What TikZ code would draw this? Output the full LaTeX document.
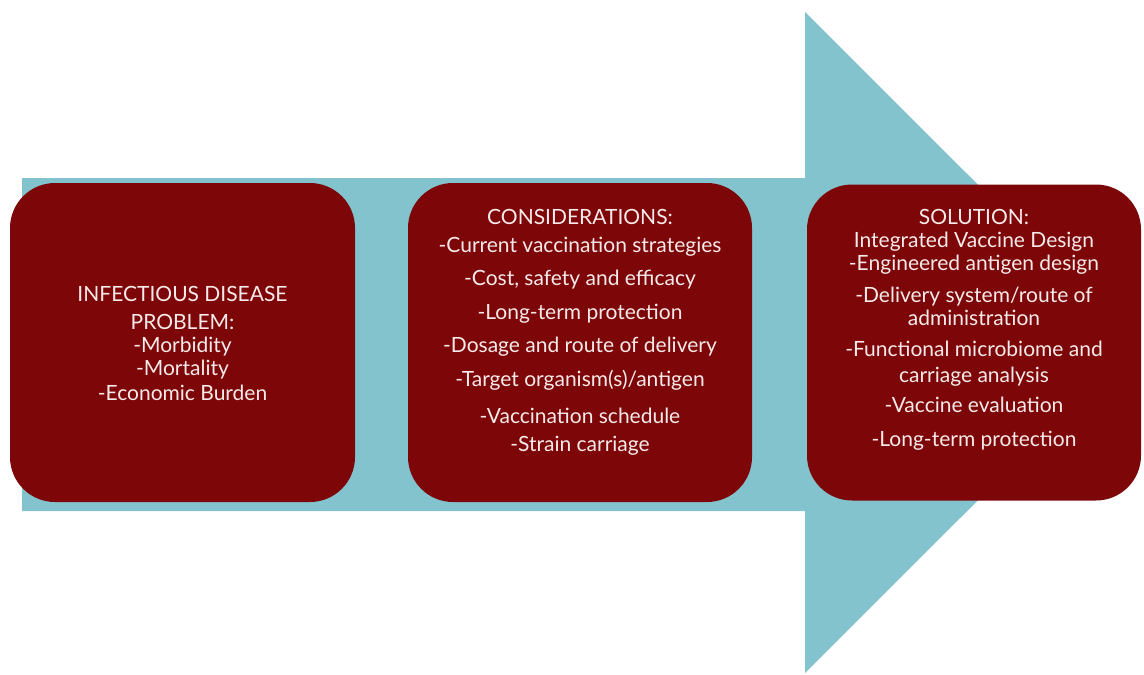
\documentclass[tikz,border=0pt]{standalone}
\usepackage{fontspec}
\setmainfont{Lato}
\definecolor{arrowteal}{RGB}{131,195,206}
\definecolor{boxred}{RGB}{125,6,8}
\definecolor{txtwhite}{RGB}{248,234,234}
\tikzset{
  redbox/.style={fill=boxred, rounded corners=45pt, draw=none, inner sep=0pt},
  boxtext/.style={text=txtwhite, align=center, inner sep=0pt, font=\fontsize{21}{23}\selectfont}
}
\begin{document}
\begin{tikzpicture}[x=1pt,y=-1pt]
\useasboundingbox (0,0) rectangle (1144,675);
% big arrow
\fill[arrowteal] (22,178) -- (805,178) -- (805,12) -- (1136,342.5) -- (805,673) -- (805,511) -- (22,511) -- cycle;
% boxes
\node[redbox, minimum width=345pt, minimum height=319pt] (b1) at (182.5,342.5) {};
\node[redbox, minimum width=344pt, minimum height=319pt] (b2) at (580,342.5) {};
\node[redbox, minimum width=334pt, minimum height=316pt] (b3) at (974,342.5) {};
% texts
\node[boxtext, anchor=north] (t1) at (182.5,286) {INFECTIOUS DISEASE\\[5pt]PROBLEM:\\-Morbidity\\-Mortality\\[2pt]-Economic Burden};
\node[boxtext, anchor=north, font=\fontsize{21}{34}\selectfont] (t2) at (580,209) {CONSIDERATIONS:\\[-6pt]-Current vaccination strategies\\[-1pt]-Cost, safety and efficacy\\-Long-term protection\\[-1pt]-Dosage and route of delivery\\-Target organism(s)/antigen\\[3pt]-Vaccination schedule\\[-6pt]-Strain carriage};
\node[boxtext, anchor=north] (t3) at (974,209) {SOLUTION:\\Integrated Vaccine Design\\-Engineered antigen design\\[9pt]-Delivery system/route of\\administration\\[8pt]-Functional microbiome and\\[3pt]carriage analysis\\[7pt]-Vaccine evaluation\\[11pt]-Long-term protection};
\end{tikzpicture}
\end{document}
